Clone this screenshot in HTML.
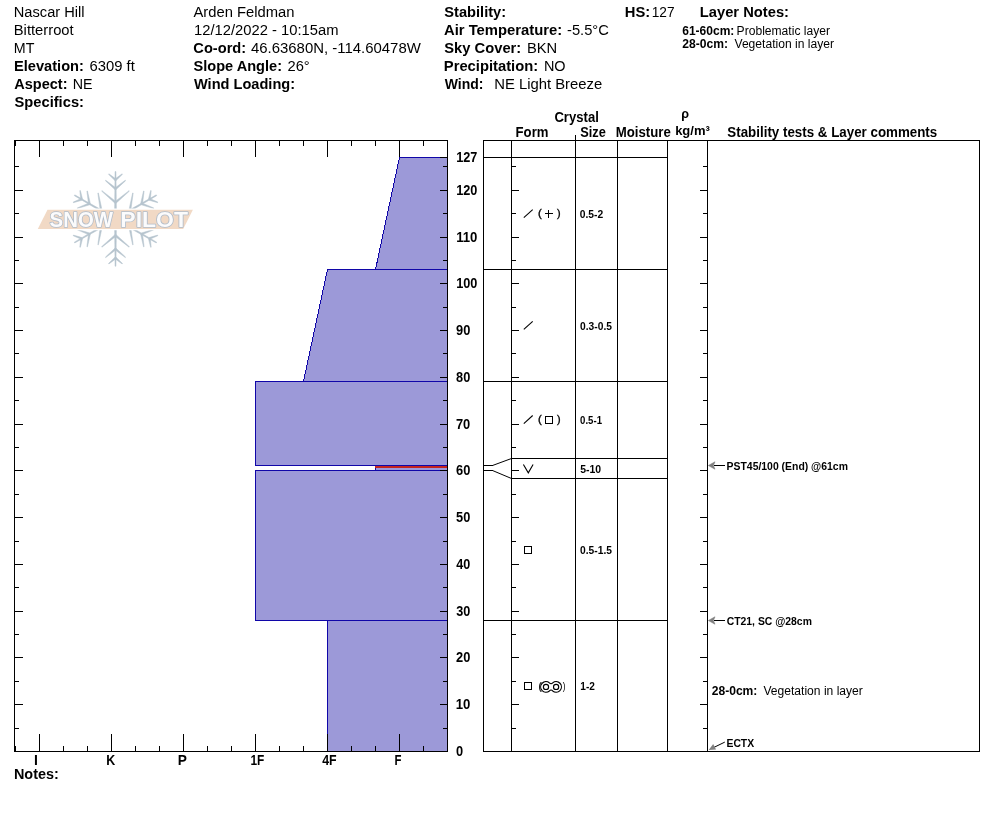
<!DOCTYPE html>
<html><head><meta charset="utf-8"><title>Snow Profile</title>
<style>
html,body{margin:0;padding:0;background:#fff;}
svg{display:block;font-family:"Liberation Sans",sans-serif;}
</style></head><body>
<svg width="994" height="840" viewBox="0 0 994 840">
<rect width="994" height="840" fill="#fff"/>
<g fill="#b6c4ce" stroke="#b6c4ce" stroke-width="0.5" stroke-linejoin="round">
<polygon points="116.50,218.90 115.95,171.60 115.05,171.60 114.50,218.90"/>
<polygon points="116.11,203.13 129.41,191.12 129.02,190.66 114.89,201.67"/>
<polygon points="116.11,201.67 101.98,190.66 101.59,191.12 114.89,203.13"/>
<polygon points="116.11,189.53 125.65,180.67 125.27,180.21 114.89,188.07"/>
<polygon points="116.11,188.07 105.73,180.21 105.35,180.67 114.89,189.53"/>
<polygon points="116.11,180.53 122.51,174.31 122.12,173.85 114.89,179.07"/>
<polygon points="116.11,179.07 108.88,173.85 108.49,174.31 114.89,180.53"/>
<polygon points="116.00,218.03 74.76,194.86 74.31,195.64 115.00,219.77"/>
<polygon points="102.15,210.49 98.40,192.97 97.81,193.07 100.28,210.81"/>
<polygon points="100.89,209.76 84.29,216.49 84.49,217.05 101.54,211.54"/>
<polygon points="90.37,203.69 87.47,191.00 86.88,191.10 88.50,204.01"/>
<polygon points="89.11,202.96 77.11,208.01 77.32,208.58 89.76,204.74"/>
<polygon points="82.57,199.19 80.39,190.53 79.80,190.64 80.70,199.51"/>
<polygon points="81.31,198.46 73.17,202.11 73.38,202.68 81.96,200.24"/>
<polygon points="115.00,218.03 74.31,242.16 74.76,242.94 116.00,219.77"/>
<polygon points="101.54,226.26 84.49,220.75 84.29,221.31 100.89,228.04"/>
<polygon points="100.28,226.99 97.81,244.73 98.40,244.83 102.15,227.31"/>
<polygon points="89.76,233.06 77.32,229.22 77.11,229.79 89.11,234.84"/>
<polygon points="88.50,233.79 86.88,246.70 87.47,246.80 90.37,234.11"/>
<polygon points="81.96,237.56 73.38,235.12 73.17,235.69 81.31,239.34"/>
<polygon points="80.70,238.29 79.80,247.16 80.39,247.27 82.57,238.61"/>
<polygon points="114.50,218.90 115.05,266.20 115.95,266.20 116.50,218.90"/>
<polygon points="114.89,234.67 101.59,246.68 101.98,247.14 116.11,236.13"/>
<polygon points="114.89,236.13 129.02,247.14 129.41,246.68 116.11,234.67"/>
<polygon points="114.89,248.27 105.35,257.13 105.73,257.59 116.11,249.73"/>
<polygon points="114.89,249.73 125.27,257.59 125.65,257.13 116.11,248.27"/>
<polygon points="114.89,257.27 108.49,263.49 108.88,263.95 116.11,258.73"/>
<polygon points="114.89,258.73 122.12,263.95 122.51,263.49 116.11,257.27"/>
<polygon points="115.00,219.77 156.24,242.94 156.69,242.16 116.00,218.03"/>
<polygon points="128.85,227.31 132.60,244.83 133.19,244.73 130.72,226.99"/>
<polygon points="130.11,228.04 146.71,221.31 146.51,220.75 129.46,226.26"/>
<polygon points="140.63,234.11 143.53,246.80 144.12,246.70 142.50,233.79"/>
<polygon points="141.89,234.84 153.89,229.79 153.68,229.22 141.24,233.06"/>
<polygon points="148.43,238.61 150.61,247.27 151.20,247.16 150.30,238.29"/>
<polygon points="149.69,239.34 157.83,235.69 157.62,235.12 149.04,237.56"/>
<polygon points="116.00,219.77 156.69,195.64 156.24,194.86 115.00,218.03"/>
<polygon points="129.46,211.54 146.51,217.05 146.71,216.49 130.11,209.76"/>
<polygon points="130.72,210.81 133.19,193.07 132.60,192.97 128.85,210.49"/>
<polygon points="141.24,204.74 153.68,208.58 153.89,208.01 141.89,202.96"/>
<polygon points="142.50,204.01 144.12,191.10 143.53,191.00 140.63,203.69"/>
<polygon points="149.04,200.24 157.62,202.68 157.83,202.11 149.69,198.46"/>
<polygon points="150.30,199.51 151.20,190.64 150.61,190.53 148.43,199.19"/>
</g>
<polygon points="47.5,209.8 192.9,209.8 183.2,229.0 37.8,229.0" fill="#f1d9c5" stroke="#fff" stroke-width="2.6" paint-order="stroke"/>
<text x="49.59" y="227.00" font-size="21.80" font-weight="bold" fill="#fbfbfc" textLength="63.43" lengthAdjust="spacingAndGlyphs" stroke="#afbbc9" stroke-width="1.6" paint-order="stroke" stroke-linejoin="round">SNOW</text>
<text x="120.31" y="227.00" font-size="21.80" font-weight="bold" fill="#fbfbfc" textLength="67.71" lengthAdjust="spacingAndGlyphs" stroke="#afbbc9" stroke-width="1.6" paint-order="stroke" stroke-linejoin="round">PILOT</text>
<text x="13.79" y="17.00" font-size="14.67" textLength="70.77" lengthAdjust="spacingAndGlyphs">Nascar Hill</text>
<text x="13.78" y="35.00" font-size="14.67" textLength="59.90" lengthAdjust="spacingAndGlyphs">Bitterroot</text>
<text x="13.82" y="53.00" font-size="14.67" textLength="20.59" lengthAdjust="spacingAndGlyphs">MT</text>
<text x="14.01" y="71.00" font-size="14.67" font-weight="bold" textLength="69.94" lengthAdjust="spacingAndGlyphs">Elevation:</text>
<text x="89.55" y="71.00" font-size="14.67" textLength="45.31" lengthAdjust="spacingAndGlyphs">6309 ft</text>
<text x="14.28" y="89.00" font-size="14.67" font-weight="bold" textLength="53.22" lengthAdjust="spacingAndGlyphs">Aspect:</text>
<text x="72.73" y="89.00" font-size="14.67" textLength="19.82" lengthAdjust="spacingAndGlyphs">NE</text>
<text x="14.52" y="107.00" font-size="14.67" font-weight="bold" textLength="69.44" lengthAdjust="spacingAndGlyphs">Specifics:</text>
<text x="193.45" y="17.00" font-size="14.67" textLength="101.02" lengthAdjust="spacingAndGlyphs">Arden Feldman</text>
<text x="194.04" y="35.00" font-size="14.67" textLength="144.47" lengthAdjust="spacingAndGlyphs">12/12/2022 - 10:15am</text>
<text x="193.37" y="53.00" font-size="14.67" font-weight="bold" textLength="52.77" lengthAdjust="spacingAndGlyphs">Co-ord:</text>
<text x="250.95" y="53.00" font-size="14.67" textLength="169.85" lengthAdjust="spacingAndGlyphs">46.63680N, -114.60478W</text>
<text x="193.51" y="71.00" font-size="14.67" font-weight="bold" textLength="88.51" lengthAdjust="spacingAndGlyphs">Slope Angle:</text>
<text x="287.51" y="71.00" font-size="14.67" textLength="22.25" lengthAdjust="spacingAndGlyphs">26°</text>
<text x="193.95" y="89.00" font-size="14.67" font-weight="bold" textLength="101.17" lengthAdjust="spacingAndGlyphs">Wind Loading:</text>
<text x="444.31" y="17.00" font-size="14.67" font-weight="bold" textLength="61.80" lengthAdjust="spacingAndGlyphs">Stability:</text>
<text x="443.98" y="35.00" font-size="14.67" font-weight="bold" textLength="118.26" lengthAdjust="spacingAndGlyphs">Air Temperature:</text>
<text x="566.99" y="35.00" font-size="14.67" textLength="41.88" lengthAdjust="spacingAndGlyphs">-5.5°C</text>
<text x="444.31" y="53.00" font-size="14.67" font-weight="bold" textLength="76.94" lengthAdjust="spacingAndGlyphs">Sky Cover:</text>
<text x="526.97" y="53.00" font-size="14.67" textLength="30.27" lengthAdjust="spacingAndGlyphs">BKN</text>
<text x="443.79" y="71.00" font-size="14.67" font-weight="bold" textLength="94.36" lengthAdjust="spacingAndGlyphs">Precipitation:</text>
<text x="543.89" y="71.00" font-size="14.67" textLength="21.68" lengthAdjust="spacingAndGlyphs">NO</text>
<text x="444.75" y="89.00" font-size="14.67" font-weight="bold" textLength="38.70" lengthAdjust="spacingAndGlyphs">Wind:</text>
<text x="494.16" y="89.00" font-size="14.67" textLength="108.11" lengthAdjust="spacingAndGlyphs">NE Light Breeze</text>
<text x="624.79" y="17.00" font-size="14.67" font-weight="bold" textLength="25.42" lengthAdjust="spacingAndGlyphs">HS:</text>
<text x="651.72" y="17.00" font-size="14.67" textLength="22.89" lengthAdjust="spacingAndGlyphs">127</text>
<text x="699.79" y="17.00" font-size="14.67" font-weight="bold" textLength="89.22" lengthAdjust="spacingAndGlyphs">Layer Notes:</text>
<text x="682.23" y="35.00" font-size="12.00" font-weight="bold" textLength="52.12" lengthAdjust="spacingAndGlyphs">61-60cm:</text>
<text x="736.58" y="35.00" font-size="12.00" textLength="93.45" lengthAdjust="spacingAndGlyphs">Problematic layer</text>
<text x="682.23" y="48.00" font-size="12.00" font-weight="bold" textLength="45.77" lengthAdjust="spacingAndGlyphs">28-0cm:</text>
<text x="734.49" y="48.00" font-size="12.00" textLength="99.52" lengthAdjust="spacingAndGlyphs">Vegetation in layer</text>
<g shape-rendering="crispEdges">
<polygon points="399.5,157.5 447.5,157.5 447.5,269.5 375.5,269.5" fill="#9c99d8" stroke="#1006a8" stroke-width="1"/>
<polygon points="327.5,269.5 447.5,269.5 447.5,381.5 303.5,381.5" fill="#9c99d8" stroke="#1006a8" stroke-width="1"/>
<polygon points="255.5,381.5 447.5,381.5 447.5,465.5 255.5,465.5" fill="#9c99d8" stroke="#1006a8" stroke-width="1"/>
<polygon points="375.5,465.5 447.5,465.5 447.5,470.5 375.5,470.5" fill="#9c99d8" stroke="#1006a8" stroke-width="1"/>
<rect x="375" y="466" width="72" height="2" fill="#c4231f"/>
<polygon points="255.5,470.5 447.5,470.5 447.5,620.5 255.5,620.5" fill="#9c99d8" stroke="#1006a8" stroke-width="1"/>
<polygon points="327.5,620.5 447.5,620.5 447.5,751.5 327.5,751.5" fill="#9c99d8" stroke="#1006a8" stroke-width="1"/>
<rect x="14.5" y="140.5" width="433" height="611" fill="none" stroke="#000" stroke-width="1"/>
<rect x="15" y="140" width="1" height="6" fill="#000"/>
<rect x="15" y="746" width="1" height="6" fill="#000"/>
<rect x="39" y="140" width="1" height="17" fill="#000"/>
<rect x="39" y="734" width="1" height="18" fill="#000"/>
<rect x="63" y="140" width="1" height="6" fill="#000"/>
<rect x="63" y="746" width="1" height="6" fill="#000"/>
<rect x="87" y="140" width="1" height="6" fill="#000"/>
<rect x="87" y="746" width="1" height="6" fill="#000"/>
<rect x="111" y="140" width="1" height="17" fill="#000"/>
<rect x="111" y="734" width="1" height="18" fill="#000"/>
<rect x="135" y="140" width="1" height="6" fill="#000"/>
<rect x="135" y="746" width="1" height="6" fill="#000"/>
<rect x="159" y="140" width="1" height="6" fill="#000"/>
<rect x="159" y="746" width="1" height="6" fill="#000"/>
<rect x="183" y="140" width="1" height="17" fill="#000"/>
<rect x="183" y="734" width="1" height="18" fill="#000"/>
<rect x="207" y="140" width="1" height="6" fill="#000"/>
<rect x="207" y="746" width="1" height="6" fill="#000"/>
<rect x="231" y="140" width="1" height="6" fill="#000"/>
<rect x="231" y="746" width="1" height="6" fill="#000"/>
<rect x="255" y="140" width="1" height="17" fill="#000"/>
<rect x="255" y="734" width="1" height="18" fill="#000"/>
<rect x="279" y="140" width="1" height="6" fill="#000"/>
<rect x="279" y="746" width="1" height="6" fill="#000"/>
<rect x="303" y="140" width="1" height="6" fill="#000"/>
<rect x="303" y="746" width="1" height="6" fill="#000"/>
<rect x="327" y="140" width="1" height="17" fill="#000"/>
<rect x="327" y="734" width="1" height="18" fill="#000"/>
<rect x="351" y="140" width="1" height="6" fill="#000"/>
<rect x="351" y="746" width="1" height="6" fill="#000"/>
<rect x="375" y="140" width="1" height="6" fill="#000"/>
<rect x="375" y="746" width="1" height="6" fill="#000"/>
<rect x="399" y="140" width="1" height="17" fill="#000"/>
<rect x="399" y="734" width="1" height="18" fill="#000"/>
<rect x="423" y="140" width="1" height="6" fill="#000"/>
<rect x="423" y="746" width="1" height="6" fill="#000"/>
<rect x="14" y="728" width="5" height="1" fill="#000"/>
<rect x="443" y="728" width="5" height="1" fill="#000"/>
<rect x="511" y="728" width="5" height="1" fill="#000"/>
<rect x="703" y="728" width="5" height="1" fill="#000"/>
<rect x="14" y="704" width="9" height="1" fill="#000"/>
<rect x="440" y="704" width="8" height="1" fill="#000"/>
<rect x="511" y="704" width="8" height="1" fill="#000"/>
<rect x="700" y="704" width="8" height="1" fill="#000"/>
<rect x="14" y="681" width="5" height="1" fill="#000"/>
<rect x="443" y="681" width="5" height="1" fill="#000"/>
<rect x="511" y="681" width="5" height="1" fill="#000"/>
<rect x="703" y="681" width="5" height="1" fill="#000"/>
<rect x="14" y="657" width="9" height="1" fill="#000"/>
<rect x="440" y="657" width="8" height="1" fill="#000"/>
<rect x="511" y="657" width="8" height="1" fill="#000"/>
<rect x="700" y="657" width="8" height="1" fill="#000"/>
<rect x="14" y="634" width="5" height="1" fill="#000"/>
<rect x="443" y="634" width="5" height="1" fill="#000"/>
<rect x="511" y="634" width="5" height="1" fill="#000"/>
<rect x="703" y="634" width="5" height="1" fill="#000"/>
<rect x="14" y="611" width="9" height="1" fill="#000"/>
<rect x="440" y="611" width="8" height="1" fill="#000"/>
<rect x="511" y="611" width="8" height="1" fill="#000"/>
<rect x="700" y="611" width="8" height="1" fill="#000"/>
<rect x="14" y="587" width="5" height="1" fill="#000"/>
<rect x="443" y="587" width="5" height="1" fill="#000"/>
<rect x="511" y="587" width="5" height="1" fill="#000"/>
<rect x="703" y="587" width="5" height="1" fill="#000"/>
<rect x="14" y="564" width="9" height="1" fill="#000"/>
<rect x="440" y="564" width="8" height="1" fill="#000"/>
<rect x="511" y="564" width="8" height="1" fill="#000"/>
<rect x="700" y="564" width="8" height="1" fill="#000"/>
<rect x="14" y="541" width="5" height="1" fill="#000"/>
<rect x="443" y="541" width="5" height="1" fill="#000"/>
<rect x="511" y="541" width="5" height="1" fill="#000"/>
<rect x="703" y="541" width="5" height="1" fill="#000"/>
<rect x="14" y="517" width="9" height="1" fill="#000"/>
<rect x="440" y="517" width="8" height="1" fill="#000"/>
<rect x="511" y="517" width="8" height="1" fill="#000"/>
<rect x="700" y="517" width="8" height="1" fill="#000"/>
<rect x="14" y="494" width="5" height="1" fill="#000"/>
<rect x="443" y="494" width="5" height="1" fill="#000"/>
<rect x="511" y="494" width="5" height="1" fill="#000"/>
<rect x="703" y="494" width="5" height="1" fill="#000"/>
<rect x="14" y="470" width="9" height="1" fill="#000"/>
<rect x="440" y="470" width="8" height="1" fill="#000"/>
<rect x="511" y="470" width="8" height="1" fill="#000"/>
<rect x="700" y="470" width="8" height="1" fill="#000"/>
<rect x="14" y="447" width="5" height="1" fill="#000"/>
<rect x="443" y="447" width="5" height="1" fill="#000"/>
<rect x="511" y="447" width="5" height="1" fill="#000"/>
<rect x="703" y="447" width="5" height="1" fill="#000"/>
<rect x="14" y="424" width="9" height="1" fill="#000"/>
<rect x="440" y="424" width="8" height="1" fill="#000"/>
<rect x="511" y="424" width="8" height="1" fill="#000"/>
<rect x="700" y="424" width="8" height="1" fill="#000"/>
<rect x="14" y="400" width="5" height="1" fill="#000"/>
<rect x="443" y="400" width="5" height="1" fill="#000"/>
<rect x="511" y="400" width="5" height="1" fill="#000"/>
<rect x="703" y="400" width="5" height="1" fill="#000"/>
<rect x="14" y="377" width="9" height="1" fill="#000"/>
<rect x="440" y="377" width="8" height="1" fill="#000"/>
<rect x="511" y="377" width="8" height="1" fill="#000"/>
<rect x="700" y="377" width="8" height="1" fill="#000"/>
<rect x="14" y="353" width="5" height="1" fill="#000"/>
<rect x="443" y="353" width="5" height="1" fill="#000"/>
<rect x="511" y="353" width="5" height="1" fill="#000"/>
<rect x="703" y="353" width="5" height="1" fill="#000"/>
<rect x="14" y="330" width="9" height="1" fill="#000"/>
<rect x="440" y="330" width="8" height="1" fill="#000"/>
<rect x="511" y="330" width="8" height="1" fill="#000"/>
<rect x="700" y="330" width="8" height="1" fill="#000"/>
<rect x="14" y="307" width="5" height="1" fill="#000"/>
<rect x="443" y="307" width="5" height="1" fill="#000"/>
<rect x="511" y="307" width="5" height="1" fill="#000"/>
<rect x="703" y="307" width="5" height="1" fill="#000"/>
<rect x="14" y="283" width="9" height="1" fill="#000"/>
<rect x="440" y="283" width="8" height="1" fill="#000"/>
<rect x="511" y="283" width="8" height="1" fill="#000"/>
<rect x="700" y="283" width="8" height="1" fill="#000"/>
<rect x="14" y="260" width="5" height="1" fill="#000"/>
<rect x="443" y="260" width="5" height="1" fill="#000"/>
<rect x="511" y="260" width="5" height="1" fill="#000"/>
<rect x="703" y="260" width="5" height="1" fill="#000"/>
<rect x="14" y="237" width="9" height="1" fill="#000"/>
<rect x="440" y="237" width="8" height="1" fill="#000"/>
<rect x="511" y="237" width="8" height="1" fill="#000"/>
<rect x="700" y="237" width="8" height="1" fill="#000"/>
<rect x="14" y="213" width="5" height="1" fill="#000"/>
<rect x="443" y="213" width="5" height="1" fill="#000"/>
<rect x="511" y="213" width="5" height="1" fill="#000"/>
<rect x="703" y="213" width="5" height="1" fill="#000"/>
<rect x="14" y="190" width="9" height="1" fill="#000"/>
<rect x="440" y="190" width="8" height="1" fill="#000"/>
<rect x="511" y="190" width="8" height="1" fill="#000"/>
<rect x="700" y="190" width="8" height="1" fill="#000"/>
<rect x="14" y="166" width="5" height="1" fill="#000"/>
<rect x="443" y="166" width="5" height="1" fill="#000"/>
<rect x="511" y="166" width="5" height="1" fill="#000"/>
<rect x="703" y="166" width="5" height="1" fill="#000"/>
<rect x="440" y="157" width="8" height="1" fill="#000"/>
<rect x="483.5" y="140.5" width="496" height="611" fill="none" stroke="#000" stroke-width="1"/>
<rect x="511" y="140" width="1" height="612" fill="#000"/>
<rect x="575" y="140" width="1" height="612" fill="#000"/>
<rect x="617" y="140" width="1" height="612" fill="#000"/>
<rect x="667" y="140" width="1" height="612" fill="#000"/>
<rect x="707" y="140" width="1" height="612" fill="#000"/>
<rect x="575" y="135" width="1" height="5" fill="#000"/>
<rect x="483" y="157" width="185" height="1" fill="#000"/>
<rect x="483" y="269" width="185" height="1" fill="#000"/>
<rect x="483" y="381" width="185" height="1" fill="#000"/>
<rect x="483" y="620" width="185" height="1" fill="#000"/>
<rect x="511" y="458" width="157" height="1" fill="#000"/>
<rect x="511" y="478" width="157" height="1" fill="#000"/>
<rect x="483" y="465" width="10" height="1" fill="#000"/>
<rect x="483" y="470" width="10" height="1" fill="#000"/>
</g>
<g stroke="#000" stroke-width="1" fill="none">
<line x1="492.5" y1="465.5" x2="511.5" y2="458.5"/>
<line x1="492.5" y1="470.5" x2="511.5" y2="478.5"/>
</g>
<text x="455.94" y="756.00" font-size="14.67" font-weight="bold" textLength="7.14" lengthAdjust="spacingAndGlyphs">0</text>
<text x="455.66" y="709.00" font-size="14.67" font-weight="bold" textLength="14.65" lengthAdjust="spacingAndGlyphs">10</text>
<text x="456.00" y="662.00" font-size="14.67" font-weight="bold" textLength="14.29" lengthAdjust="spacingAndGlyphs">20</text>
<text x="456.20" y="616.00" font-size="14.67" font-weight="bold" textLength="14.09" lengthAdjust="spacingAndGlyphs">30</text>
<text x="456.26" y="569.00" font-size="14.67" font-weight="bold" textLength="14.02" lengthAdjust="spacingAndGlyphs">40</text>
<text x="456.07" y="522.00" font-size="14.67" font-weight="bold" textLength="14.23" lengthAdjust="spacingAndGlyphs">50</text>
<text x="456.00" y="475.00" font-size="14.67" font-weight="bold" textLength="14.29" lengthAdjust="spacingAndGlyphs">60</text>
<text x="455.93" y="429.00" font-size="14.67" font-weight="bold" textLength="14.36" lengthAdjust="spacingAndGlyphs">70</text>
<text x="456.07" y="382.00" font-size="14.67" font-weight="bold" textLength="14.23" lengthAdjust="spacingAndGlyphs">80</text>
<text x="456.00" y="335.00" font-size="14.67" font-weight="bold" textLength="14.29" lengthAdjust="spacingAndGlyphs">90</text>
<text x="456.19" y="288.00" font-size="14.67" font-weight="bold" textLength="21.22" lengthAdjust="spacingAndGlyphs">100</text>
<text x="456.16" y="242.00" font-size="14.67" font-weight="bold" textLength="21.26" lengthAdjust="spacingAndGlyphs">110</text>
<text x="456.19" y="195.00" font-size="14.67" font-weight="bold" textLength="21.22" lengthAdjust="spacingAndGlyphs">120</text>
<text x="456.19" y="162.00" font-size="14.67" font-weight="bold" textLength="21.22" lengthAdjust="spacingAndGlyphs">127</text>
<text x="34.04" y="765.00" font-size="14.67" font-weight="bold" textLength="3.89" lengthAdjust="spacingAndGlyphs">I</text>
<text x="106.14" y="765.00" font-size="14.67" font-weight="bold" textLength="9.00" lengthAdjust="spacingAndGlyphs">K</text>
<text x="177.76" y="765.00" font-size="14.67" font-weight="bold" textLength="9.13" lengthAdjust="spacingAndGlyphs">P</text>
<text x="250.44" y="765.00" font-size="14.67" font-weight="bold" textLength="13.85" lengthAdjust="spacingAndGlyphs">1F</text>
<text x="322.16" y="765.00" font-size="14.67" font-weight="bold" textLength="14.44" lengthAdjust="spacingAndGlyphs">4F</text>
<text x="394.41" y="765.00" font-size="14.67" font-weight="bold" textLength="6.95" lengthAdjust="spacingAndGlyphs">F</text>
<text x="13.91" y="779.00" font-size="14.67" font-weight="bold" textLength="44.91" lengthAdjust="spacingAndGlyphs">Notes:</text>
<text x="554.43" y="122.00" font-size="14.67" font-weight="bold" textLength="44.38" lengthAdjust="spacingAndGlyphs">Crystal</text>
<text x="515.60" y="137.00" font-size="14.67" font-weight="bold" textLength="32.84" lengthAdjust="spacingAndGlyphs">Form</text>
<text x="580.27" y="137.00" font-size="14.67" font-weight="bold" textLength="25.58" lengthAdjust="spacingAndGlyphs">Size</text>
<text x="615.69" y="137.00" font-size="14.67" font-weight="bold" textLength="55.08" lengthAdjust="spacingAndGlyphs">Moisture</text>
<text x="681.16" y="118.00" font-size="13.50" font-weight="bold" textLength="7.78" lengthAdjust="spacingAndGlyphs">ρ</text>
<text x="675.14" y="135.00" font-size="13.33" font-weight="bold" textLength="34.73" lengthAdjust="spacingAndGlyphs">kg/m³</text>
<text x="727.35" y="137.00" font-size="14.67" font-weight="bold" textLength="209.87" lengthAdjust="spacingAndGlyphs">Stability tests &amp; Layer comments</text>
<text x="579.74" y="218.00" font-size="11.60" font-weight="bold" textLength="23.47" lengthAdjust="spacingAndGlyphs">0.5-2</text>
<text x="580.04" y="330.00" font-size="11.60" font-weight="bold" textLength="31.90" lengthAdjust="spacingAndGlyphs">0.3-0.5</text>
<text x="580.07" y="424.00" font-size="11.60" font-weight="bold" textLength="21.92" lengthAdjust="spacingAndGlyphs">0.5-1</text>
<text x="580.14" y="473.00" font-size="11.60" font-weight="bold" textLength="20.95" lengthAdjust="spacingAndGlyphs">5-10</text>
<text x="580.04" y="554.00" font-size="11.60" font-weight="bold" textLength="31.90" lengthAdjust="spacingAndGlyphs">0.5-1.5</text>
<text x="580.35" y="690.00" font-size="11.60" font-weight="bold" textLength="14.56" lengthAdjust="spacingAndGlyphs">1-2</text>
<text x="726.57" y="470.00" font-size="11.60" font-weight="bold" textLength="121.37" lengthAdjust="spacingAndGlyphs">PST45/100 (End) @61cm</text>
<text x="726.73" y="625.00" font-size="11.60" font-weight="bold" textLength="85.15" lengthAdjust="spacingAndGlyphs">CT21, SC @28cm</text>
<text x="726.48" y="747.00" font-size="11.60" font-weight="bold" textLength="27.65" lengthAdjust="spacingAndGlyphs">ECTX</text>
<text x="711.73" y="695.00" font-size="12.00" font-weight="bold" textLength="45.67" lengthAdjust="spacingAndGlyphs">28-0cm:</text>
<text x="763.49" y="695.00" font-size="12.00" textLength="99.32" lengthAdjust="spacingAndGlyphs">Vegetation in layer</text>
<g shape-rendering="crispEdges"><rect x="714" y="465" width="11" height="1" fill="#000"/></g>
<path d="M708.4 465.5L715 461.8L713.4 465.5L715 469.2Z" fill="#808080" stroke="#808080" stroke-width="0.6" stroke-linejoin="round"/>
<g shape-rendering="crispEdges"><rect x="714" y="620" width="11" height="1" fill="#000"/></g>
<path d="M708.4 620.5L715 616.8L713.4 620.5L715 624.2Z" fill="#808080" stroke="#808080" stroke-width="0.6" stroke-linejoin="round"/>
<line x1="724.8" y1="742.1" x2="713.5" y2="747.6" stroke="#000" stroke-width="1"/>
<polygon points="708.7,749.9 713.2,744 716,749.6" fill="#808080"/>
<g fill="none" stroke="#000" stroke-width="1.1">
<line x1="523.8" y1="217.7" x2="532.7" y2="209.7"/>
<line x1="523.8" y1="329.4" x2="532.7" y2="321.3"/>
<line x1="523.8" y1="423.6" x2="532.7" y2="415.5"/>
<polyline points="523.4,464.5 528.3,472.8 533.1,464.5"/>
</g>
<g fill="none" stroke="#000" stroke-width="1" shape-rendering="crispEdges">
<rect x="545.5" y="416.5" width="7" height="7"/>
<rect x="524.5" y="546.5" width="7" height="7"/>
<rect x="524.5" y="682.5" width="7" height="7"/>
<rect x="545" y="213" width="8" height="1" fill="#000" stroke="none"/><rect x="548" y="210" width="1" height="8" fill="#000" stroke="none"/>
</g>
<g fill="none" stroke="#000" stroke-width="1.15">
<path d="M549.41 682.84A5.3 5.3 0 1 0 549.41 690.96Q551.05 689.10 552.69 690.96A5.3 5.3 0 1 0 552.69 682.84Q551.05 684.70 549.41 682.84Z"/>
<circle cx="546.0" cy="686.9" r="2.6"/>
<circle cx="556.1" cy="686.9" r="2.6"/>
</g>
<text x="538.12" y="217.00" font-size="10.30" textLength="3.77" lengthAdjust="spacingAndGlyphs" stroke="#000" stroke-width="0.35">(</text>
<text x="556.95" y="217.00" font-size="10.30" textLength="3.58" lengthAdjust="spacingAndGlyphs" stroke="#000" stroke-width="0.35">)</text>
<text x="538.12" y="423.00" font-size="10.30" textLength="3.77" lengthAdjust="spacingAndGlyphs" stroke="#000" stroke-width="0.35">(</text>
<text x="556.95" y="423.00" font-size="10.30" textLength="3.58" lengthAdjust="spacingAndGlyphs" stroke="#000" stroke-width="0.35">)</text>
<text x="538.51" y="690.00" font-size="10.30" textLength="3.27" lengthAdjust="spacingAndGlyphs" stroke="#000" stroke-width="0.2">(</text>
<text x="562.76" y="690.00" font-size="10.30" textLength="2.71" lengthAdjust="spacingAndGlyphs">)</text>
</svg>
</body></html>
